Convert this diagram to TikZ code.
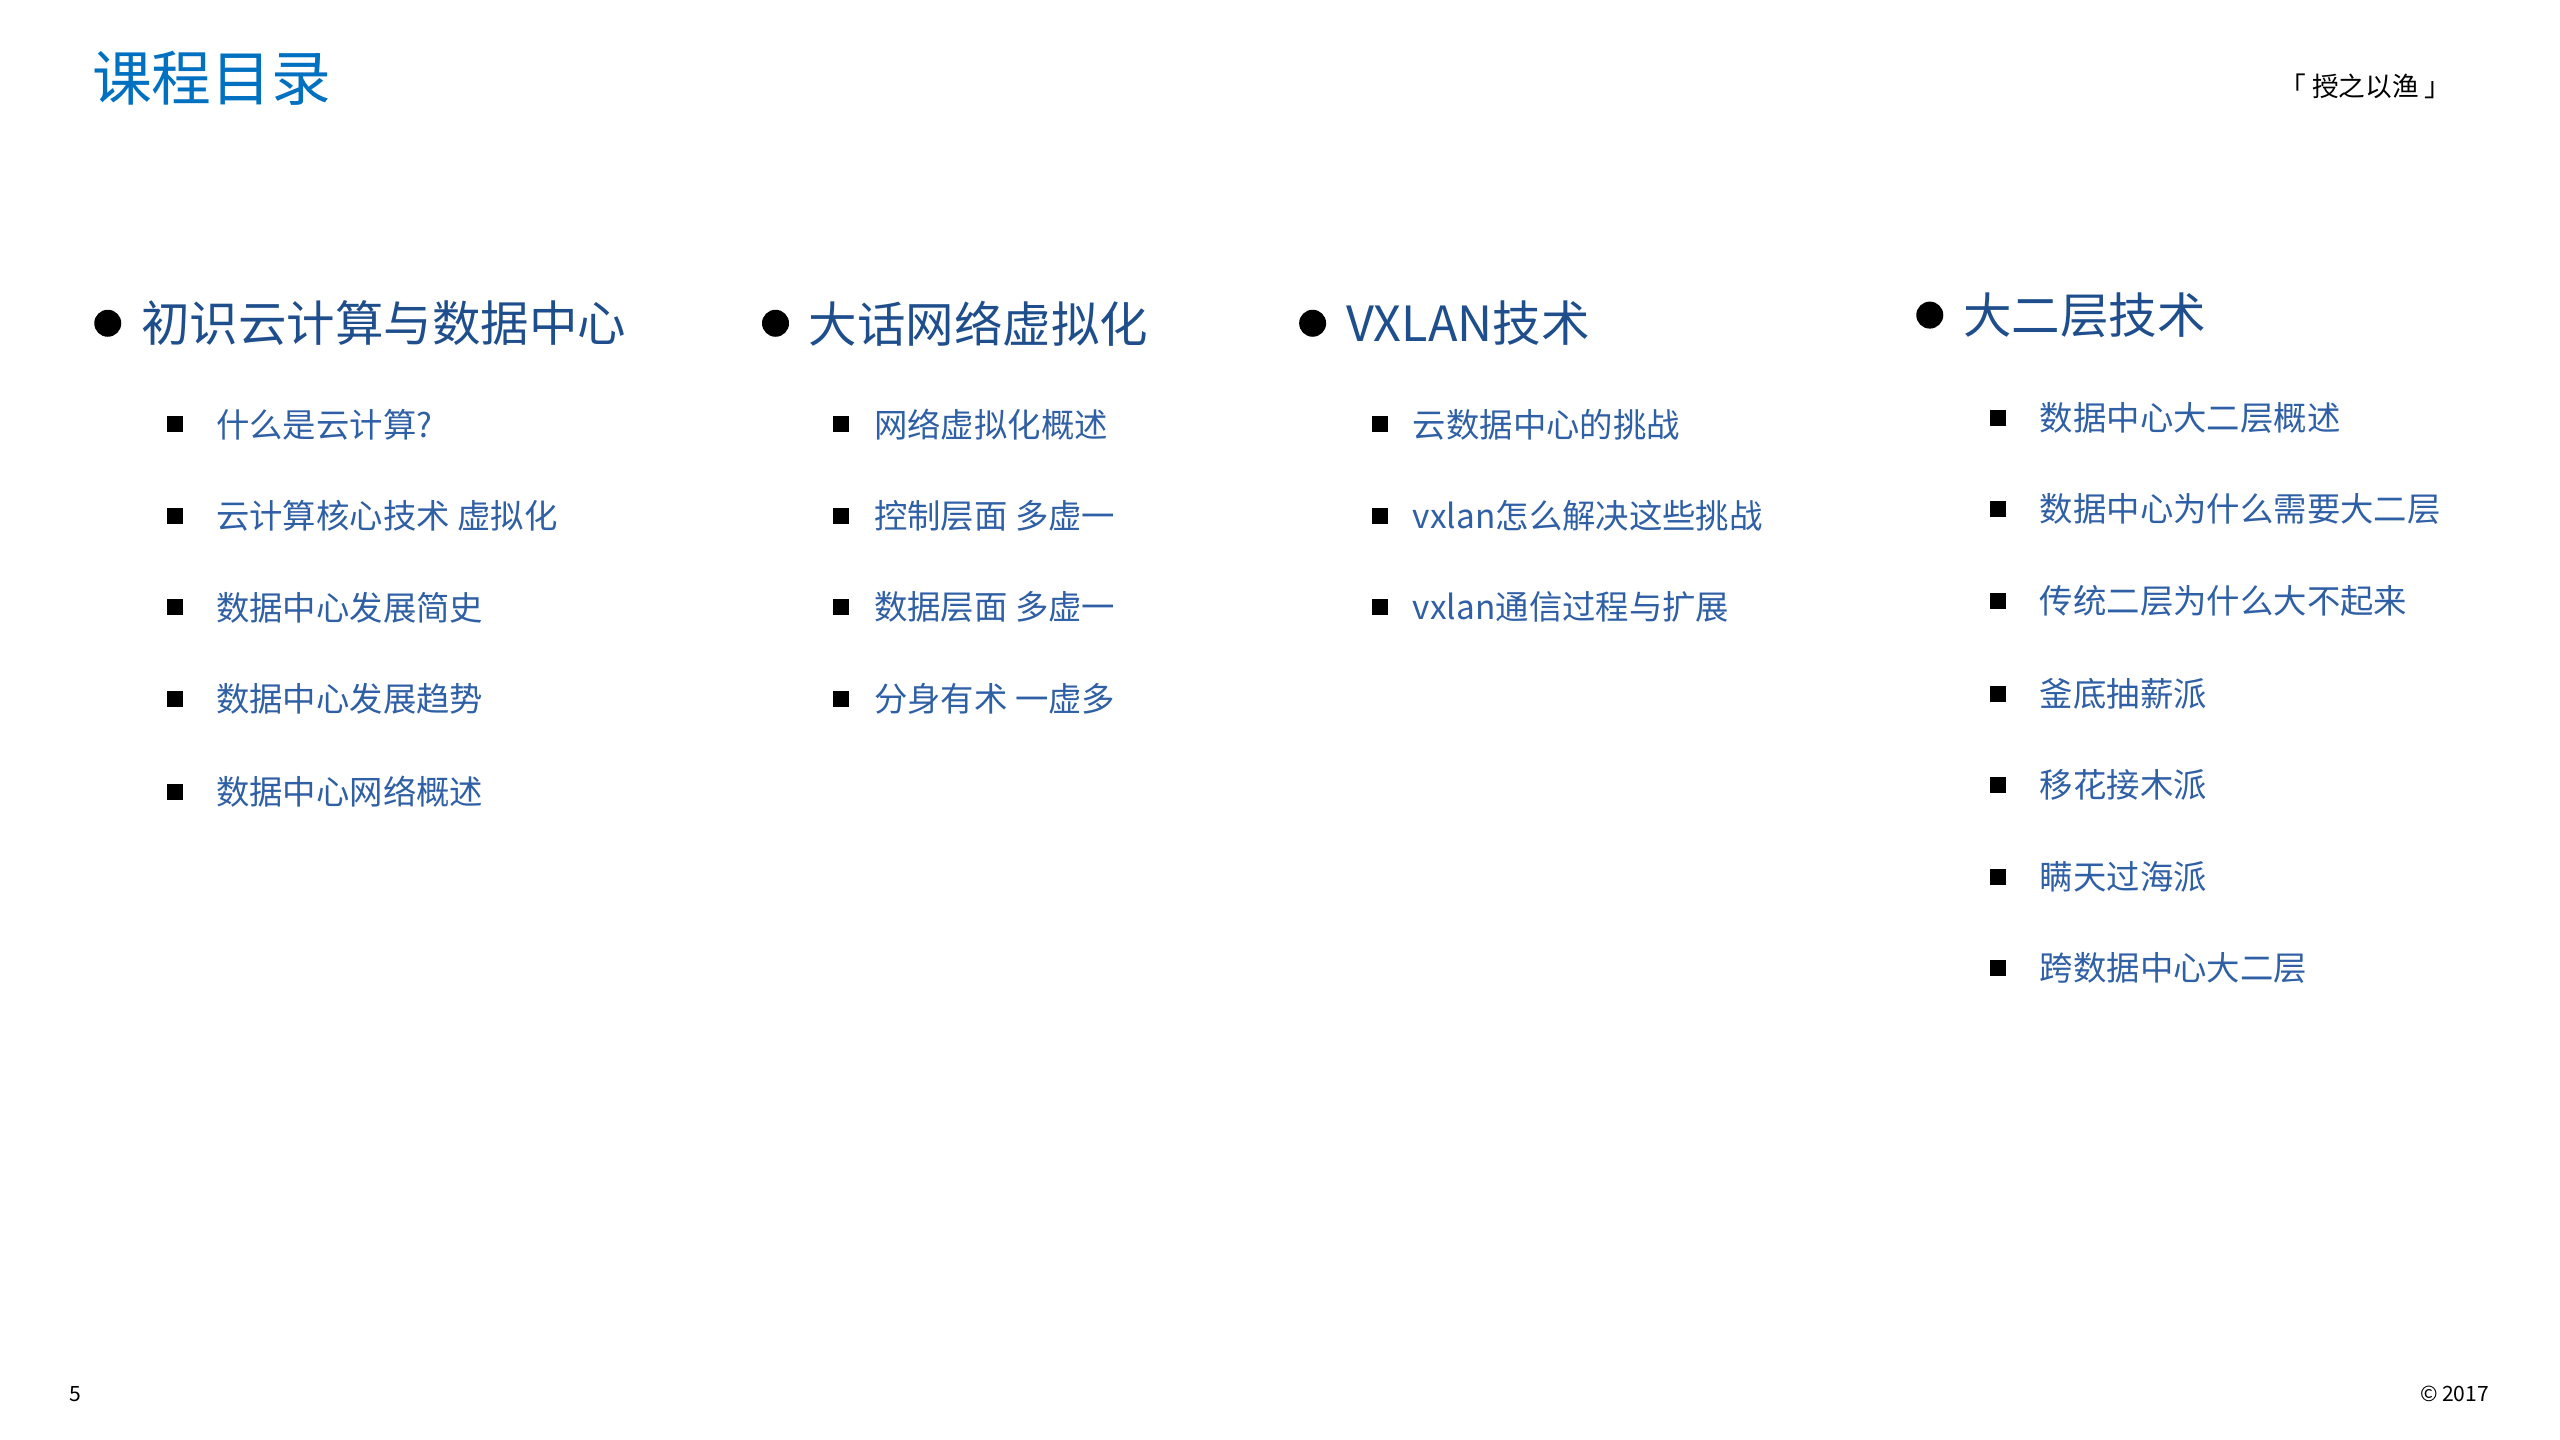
\documentclass[tikz,border=0pt]{standalone}
\usepackage{fontspec}
\setmainfont{Noto Sans CJK SC}
\definecolor{titleblue}{HTML}{0070C0}
\definecolor{headblue}{HTML}{1F4E8C}
\definecolor{itemblue}{HTML}{2F5FA5}
\begin{document}
\begin{tikzpicture}[x=0.016327cm,y=-0.016327cm,
  head/.style={anchor=west,inner sep=0,text=headblue,font=\fontsize{13.8}{16}\selectfont},
  item/.style={anchor=west,inner sep=0,text=itemblue,font=\fontsize{9.5}{11}\selectfont},
  dot/.style={circle,fill=black,inner sep=0,minimum size=0.27cm},
  sq/.style={fill=black,inner sep=0,minimum size=0.16cm}]
\useasboundingbox (0,0) rectangle (1568,882);
\node[anchor=west,inner sep=0,text=titleblue,font=\fontsize{17}{20}\selectfont] (title) at (56,48) {课程目录};
\node[anchor=east,inner sep=0,font=\fontsize{7.6}{9}\selectfont] (tag) at (1502,53) {「 授之以渔 」};
\node[anchor=west,inner sep=0,font=\fontsize{6}{7}\selectfont] (pg) at (42,854) {5};
\node[anchor=east,inner sep=0,font=\fontsize{6}{7}\selectfont] (cp) at (1525,854) {© 2017};
% headings
\foreach \n/\bx/\y/\t in {a/66/198/初识云计算与数据中心, b/475/198/大话网络虚拟化, c/804/198/VXLAN技术, d/1182/193/大二层技术}{
  \node[dot] (dot\n) at (\bx,\y) {};
  \node[head] (h\n) at (\bx+20,\y) {\t};
}
\foreach \i/\y/\t in {1/260/什么是云计算?, 2/316/云计算核心技术 虚拟化, 3/372/数据中心发展简史, 4/428/数据中心发展趋势, 5/485/数据中心网络概述}{
  \node[sq] (sa\i) at (107,\y) {};
  \node[item] (ia\i) at (132,\y) {\t};
}
\foreach \i/\y/\t in {1/260/网络虚拟化概述, 2/316/控制层面 多虚一, 3/372/数据层面 多虚一, 4/428/分身有术 一虚多}{
  \node[sq] (sb\i) at (515,\y) {};
  \node[item] (ib\i) at (535,\y) {\t};
}
\foreach \i/\y/\t in {1/260/云数据中心的挑战, 2/316/vxlan怎么解决这些挑战, 3/372/vxlan通信过程与扩展}{
  \node[sq] (sc\i) at (845,\y) {};
  \node[item] (ic\i) at (865,\y) {\t};
}
\foreach \i/\y/\t in {1/256/数据中心大二层概述, 2/312/数据中心为什么需要大二层, 3/368/传统二层为什么大不起来, 4/425/釜底抽薪派, 5/481/移花接木派, 6/537/瞒天过海派, 7/593/跨数据中心大二层}{
  \node[sq] (sd\i) at (1224,\y) {};
  \node[item] (id\i) at (1249,\y) {\t};
}
\end{tikzpicture}
\end{document}
